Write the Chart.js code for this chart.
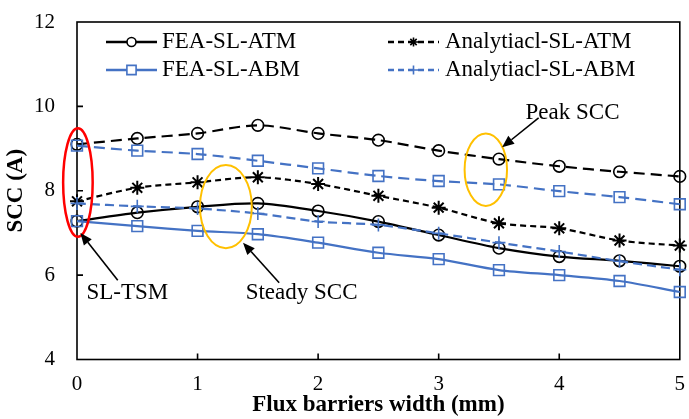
<!DOCTYPE html>
<html>
<head>
<meta charset="utf-8">
<script src="https://cdn.jsdelivr.net/npm/chart.js@4.4.1/dist/chart.umd.min.js"></script>
<style>
  html, body { margin: 0; padding: 0; background: #fff; }
  #wrap { width: 689px; height: 419px; }
</style>
</head>
<body>
<div id="wrap"><canvas id="sccChart"></canvas></div>
<script>
// Flux barrier width (mm)
const widths = [0, 0.5, 1, 1.5, 2, 2.5, 3, 3.5, 4, 4.5, 5];
const yTickValues = [4, 6, 8, 10, 12];
const xTickValues = [0, 1, 2, 3, 4, 5];

// SCC (A)
const feaAtmSteady = [7.28, 7.48, 7.62, 7.70, 7.52, 7.27, 6.95, 6.64, 6.44, 6.34, 6.21];
const anaAtm       = [7.75, 8.07, 8.20, 8.32, 8.16, 7.88, 7.60, 7.23, 7.11, 6.82, 6.70];
const feaAbmSteady = [7.28, 7.16, 7.05, 6.97, 6.77, 6.53, 6.38, 6.12, 6.00, 5.86, 5.60];
const anaAbm       = [7.70, 7.63, 7.58, 7.46, 7.27, 7.19, 6.99, 6.77, 6.56, 6.33, 6.13];
const feaAtmPeak   = [9.10, 9.24, 9.36, 9.55, 9.36, 9.20, 8.95, 8.75, 8.58, 8.45, 8.34];
const feaAbmPeak   = [9.07, 8.95, 8.87, 8.71, 8.53, 8.35, 8.23, 8.15, 7.99, 7.85, 7.68];

const legendLabels = ['FEA-SL-ATM', 'Analytiacl-SL-ATM', 'FEA-SL-ABM', 'Analytiacl-SL-ABM'];

const BLUE = '#4472C4';
const SERIF = '"Liberation Serif", "Times New Roman", serif';

const pts = vals => vals.map((v, i) => ({ x: widths[i], y: v }));

function series(label, vals, color, dash, style, radius, order) {
    return {
        label: label,
        data: pts(vals),
        borderColor: color,
        borderWidth: 2.2,
        borderDash: dash,
        tension: 0.3,
        pointStyle: style,
        pointRadius: radius,
        pointBorderColor: color,
        pointBorderWidth: style === 'star' ? 2 : 1.6,
        pointBackgroundColor: 'rgba(0,0,0,0)',
        clip: false,
        order: order
    };
}

// Annotations, in data units
const ellipses = [
    { x0: -0.115, x1: 0.13, y0: 6.91, y1: 9.48, color: '#FF0000', width: 2.5 },
    { x0: 1.02, x1: 1.45, y0: 6.64, y1: 8.61, color: '#FFC000', width: 2 },
    { x0: 3.215, x1: 3.567, y0: 7.64, y1: 9.36, color: '#FFC000', width: 2 }
];
const arrows = [
    { from: [0.338, 5.88], to: [0.028, 7.00] },
    { from: [1.677, 5.82], to: [1.377, 6.77] },
    { from: [3.829, 9.73], to: [3.526, 9.03] }
];
const notes = [
    { text: 'SL-TSM', x: 0.418, y: 5.58 },
    { text: 'Steady SCC', x: 1.863, y: 5.58 },
    { text: 'Peak SCC', x: 4.11, y: 9.85 }
];

function drawArrow(ctx, x1, y1, x2, y2) {
    const ang = Math.atan2(y2 - y1, x2 - x1);
    const len = 12, half = 5;
    const bx = x2 - len * Math.cos(ang), by = y2 - len * Math.sin(ang);
    ctx.beginPath();
    ctx.moveTo(x1, y1);
    ctx.lineTo(bx, by);
    ctx.stroke();
    ctx.beginPath();
    ctx.moveTo(x2, y2);
    ctx.lineTo(bx + half * Math.sin(ang), by - half * Math.cos(ang));
    ctx.lineTo(bx - half * Math.sin(ang), by + half * Math.cos(ang));
    ctx.closePath();
    ctx.fill();
}

function legendSample(ctx, x, y, color, dash, style) {
    ctx.save();
    ctx.strokeStyle = color;
    ctx.lineWidth = 2.4;
    ctx.setLineDash(dash);
    ctx.beginPath();
    ctx.moveTo(x, y);
    ctx.lineTo(x + 51, y);
    ctx.stroke();
    ctx.setLineDash([]);
    ctx.lineWidth = 1.6;
    ctx.fillStyle = '#fff';
    Chart.helpers.drawPoint(ctx, { pointStyle: style, radius: style === 'rect' ? 6.5 : 4.5, rotation: 0, borderWidth: 1.6 }, x + 25.5, y);
    ctx.restore();
}

const frame = {
    id: 'frame',
    beforeDatasetsDraw(chart) {
        const { ctx, chartArea: a, scales: { x, y } } = chart;
        ctx.save();
        ctx.strokeStyle = '#000';
        ctx.lineWidth = 1.6;
        ctx.strokeRect(a.left, a.top, a.right - a.left, a.bottom - a.top);
        ctx.beginPath();
        yTickValues.slice(1, -1).forEach(v => {
            const py = y.getPixelForValue(v);
            ctx.moveTo(a.left, py);
            ctx.lineTo(a.left + 6, py);
        });
        xTickValues.slice(1, -1).forEach(v => {
            const px = x.getPixelForValue(v);
            ctx.moveTo(px, a.bottom);
            ctx.lineTo(px, a.bottom - 6);
        });
        ctx.stroke();
        ctx.restore();
    },
    afterDatasetsDraw(chart) {
        const { ctx, chartArea: a, scales: { x, y } } = chart;
        ctx.save();
        // ellipses
        ellipses.forEach(e => {
            const l = x.getPixelForValue(e.x0), r = x.getPixelForValue(e.x1);
            const t = y.getPixelForValue(e.y1), b = y.getPixelForValue(e.y0);
            ctx.strokeStyle = e.color;
            ctx.lineWidth = e.width;
            ctx.beginPath();
            ctx.ellipse((l + r) / 2, (t + b) / 2, (r - l) / 2, (b - t) / 2, 0, 0, Math.PI * 2);
            ctx.stroke();
        });
        // arrows
        ctx.strokeStyle = '#000';
        ctx.fillStyle = '#000';
        ctx.lineWidth = 1.6;
        arrows.forEach(ar => {
            drawArrow(ctx,
                x.getPixelForValue(ar.from[0]), y.getPixelForValue(ar.from[1]),
                x.getPixelForValue(ar.to[0]), y.getPixelForValue(ar.to[1]));
        });
        // notes
        ctx.font = '23px ' + SERIF;
        ctx.textAlign = 'center';
        ctx.textBaseline = 'middle';
        notes.forEach(n => {
            ctx.fillText(n.text, x.getPixelForValue(n.x), y.getPixelForValue(n.y));
        });
        // legend
        const r1 = a.top + 20, r2 = a.top + 48;
        const c1 = a.left + 29, c2 = a.left + 311;
        legendSample(ctx, c1, r1, '#000', [], 'circle');
        legendSample(ctx, c2, r1, '#000', [6, 4], 'star');
        legendSample(ctx, c1, r2, BLUE, [], 'rect');
        legendSample(ctx, c2, r2, BLUE, [6, 4], 'cross');
        ctx.fillStyle = '#000';
        ctx.textAlign = 'left';
        ctx.fillText(legendLabels[0], c1 + 56, r1);
        ctx.fillText(legendLabels[1], c2 + 57, r1);
        ctx.fillText(legendLabels[2], c1 + 56, r2);
        ctx.fillText(legendLabels[3], c2 + 57, r2);
        ctx.restore();
    }
};

const ctx = document.getElementById('sccChart').getContext('2d');

new Chart(ctx, {
    type: 'line',
    data: {
        datasets: [
            series('FEA-SL-ATM', feaAtmSteady, '#000', [], 'circle', 5.8, 6),
            series('Analytiacl-SL-ATM', anaAtm, '#000', [6, 4], 'star', 7, 5),
            series('FEA-SL-ATM (peak)', feaAtmPeak, '#000', [11, 6], 'circle', 5.8, 4),
            series('FEA-SL-ABM', feaAbmSteady, BLUE, [], 'rect', 7.6, 3),
            series('Analytiacl-SL-ABM', anaAbm, BLUE, [9, 5], 'cross', 6.5, 2),
            series('FEA-SL-ABM (peak)', feaAbmPeak, BLUE, [11, 6], 'rect', 7.6, 1)
        ]
    },
    options: {
        responsive: true,
        maintainAspectRatio: false,
        animation: false,
        layout: {
            padding: { left: 0, right: 1, top: 22, bottom: 0 }
        },
        plugins: {
            legend: { display: false },
            tooltip: { enabled: false }
        },
        scales: {
            x: {
                type: 'linear',
                min: 0,
                max: 5,
                afterFit: s => { s.height = 59.5; s.paddingLeft = 0; s.paddingRight = 0; },
                afterBuildTicks: s => { s.ticks = xTickValues.map(v => ({ value: v })); },
                grid: { display: false, drawTicks: false },
                border: { display: false },
                ticks: {
                    padding: 12,
                    color: '#000',
                    font: { family: SERIF, size: 21 }
                },
                title: {
                    display: true,
                    text: 'Flux barriers width (mm)',
                    color: '#000',
                    padding: { top: 0, bottom: 0 },
                    font: { family: SERIF, size: 23, weight: 'bold' }
                }
            },
            y: {
                min: 4,
                max: 12,
                afterFit: s => { s.width = 77; s.paddingTop = 0; s.paddingBottom = 0; },
                afterBuildTicks: s => { s.ticks = yTickValues.map(v => ({ value: v })); },
                grid: { display: false, drawTicks: false },
                border: { display: false },
                ticks: {
                    padding: 22,
                    color: '#000',
                    font: { family: SERIF, size: 21 }
                },
                title: {
                    display: true,
                    text: 'SCC (A)',
                    color: '#000',
                    padding: { top: 2, bottom: 0 },
                    font: { family: SERIF, size: 23, weight: 'bold' }
                }
            }
        }
    },
    plugins: [frame]
});
</script>
</body>
</html>
